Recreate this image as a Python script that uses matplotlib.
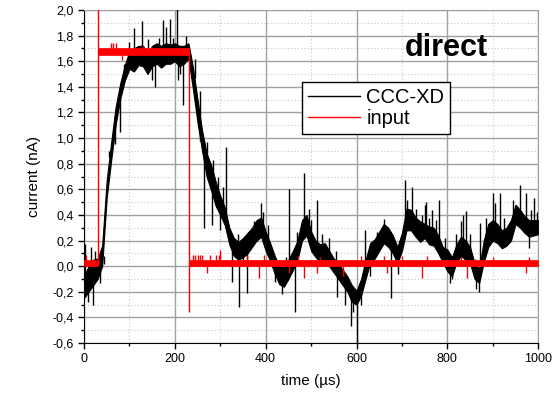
import matplotlib.pyplot as plt
import matplotlib.ticker as mticker
import numpy as np

plt.rcParams['font.family'] = ['Liberation Sans', 'DejaVu Sans']

# CCC-XD output, read as lower/upper edge of the noise band every 10 us
t_ccc = np.arange(0, 1001, 10)
ccc_lo = [-0.25, -0.20, -0.15, -0.10, 0.00, 0.53, 0.83, 1.11, 1.31, 1.45,
          1.54, 1.52, 1.57, 1.56, 1.50, 1.56, 1.58, 1.55, 1.58, 1.58,
          1.60, 1.56, 1.58, 1.62, 1.38, 1.12, 0.90, 0.70, 0.59, 0.47,
          0.40, 0.32, 0.17, 0.08, 0.05, 0.07, 0.10, 0.15, 0.20, 0.23,
          0.12, 0.04, -0.06, -0.14, -0.16, -0.10, -0.03, 0.05, 0.20, 0.24,
          0.12, 0.07, 0.03, 0.05, 0.00, -0.05, -0.10, -0.15, -0.20, -0.28,
          -0.30, -0.23, -0.10, 0.03, 0.06, 0.12, 0.18, 0.15, 0.10, 0.02,
          0.12, 0.28, 0.28, 0.23, 0.19, 0.22, 0.17, 0.16, 0.10, 0.03,
          -0.04, -0.08, 0.03, 0.08, 0.05, 0.02, -0.10, -0.13, 0.03, 0.15,
          0.20, 0.18, 0.14, 0.16, 0.20, 0.33, 0.30, 0.26, 0.23, 0.24,
          0.25]
ccc_hi = [-0.08, 0.00, 0.05, 0.06, 0.16, 0.67, 0.97, 1.25, 1.43, 1.57,
          1.68, 1.70, 1.72, 1.72, 1.66, 1.72, 1.74, 1.72, 1.74, 1.73,
          1.74, 1.72, 1.72, 1.74, 1.55, 1.30, 1.06, 0.88, 0.79, 0.66,
          0.55, 0.46, 0.30, 0.22, 0.19, 0.22, 0.26, 0.30, 0.36, 0.38,
          0.27, 0.18, 0.08, 0.00, -0.01, 0.05, 0.12, 0.20, 0.36, 0.40,
          0.27, 0.20, 0.17, 0.18, 0.12, 0.06, 0.02, -0.03, -0.08, -0.15,
          -0.19, -0.10, 0.05, 0.18, 0.21, 0.27, 0.33, 0.30, 0.24, 0.15,
          0.26, 0.45, 0.44, 0.38, 0.35, 0.33, 0.31, 0.30, 0.24, 0.15,
          0.13, 0.07, 0.17, 0.23, 0.20, 0.15, 0.02, -0.02, 0.20, 0.33,
          0.36, 0.33, 0.28, 0.30, 0.36, 0.48, 0.44, 0.39, 0.36, 0.36,
          0.36]

# single-sample glitches on the CCC-XD trace (time, value)
glitch_t = [3, 10, 15, 19, 25, 35, 45, 55, 68, 79, 88, 100, 110, 127, 140,
            150, 156, 165, 175, 180, 190, 195, 205, 207, 212, 218, 225, 245,
            255, 265, 270, 281, 285, 295, 299, 305, 313, 327, 340, 342, 350,
            359, 375, 390, 395, 405, 420, 435, 445, 451, 465, 470, 485, 495,
            500, 512, 525, 540, 555, 557, 575, 587, 592, 600, 610, 615, 618,
            630, 645, 660, 676, 692, 697, 707, 712, 722, 730, 745, 751, 753,
            760, 767, 775, 782, 795, 805, 811, 820, 829, 835, 841, 850, 862,
            870, 872, 885, 901, 905, 916, 925, 945, 960, 974, 979, 985, 990,
            998]
glitch_v = [0.17, -0.28, 0.15, -0.30, 0.12, -0.13, 0.02, 0.85, 0.95, 1.05,
            1.58, 1.75, 1.86, 1.91, 1.77, 1.45, 1.40, 1.78, 1.92, 1.87, 1.93,
            1.78, 2.05, 1.45, 1.50, 1.26, 1.80, 1.62, 1.37, 0.30, 0.97, 0.32,
            0.83, 0.70, 0.28, 0.62, 0.93, -0.12, 0.25, -0.32, 0.00, -0.21,
            0.35, 0.49, 0.42, 0.32, -0.12, -0.22, 0.07, 0.60, -0.36, 0.27,
            0.73, 0.45, 0.36, 0.52, 0.25, 0.22, 0.12, -0.24, -0.30, -0.47,
            -0.36, -0.62, -0.30, -0.02, 0.28, -0.08, 0.27, 0.37, -0.25, -0.06,
            0.22, 0.67, 0.52, 0.62, 0.45, 0.40, 0.48, 0.50, 0.38, 0.44, 0.36,
            0.52, 0.22, -0.13, -0.10, 0.25, 0.35, 0.40, 0.43, 0.25, -0.18,
            -0.20, 0.34, 0.38, 0.57, 0.49, 0.57, 0.38, 0.52, 0.63, 0.57, 0.14,
            0.44, 0.53, 0.42]

# input pulse: band edges, the two switching transients and small glitches
input_t = [0, 32, 32, 232, 232, 1000]
input_lo = [0.0, 0.0, 1.65, 1.65, 0.0, 0.0]
input_hi = [0.045, 0.045, 1.70, 1.70, 0.045, 0.045]
edge_t = [32, 232]
edge_from = [0.02, 1.675]
edge_to = [2.05, -0.355]
in_glitch_t = [5, 60, 64, 70, 83, 129, 149, 239, 245, 250, 255, 259, 271, 277,
               290, 298, 300, 358, 386, 397, 452, 472, 484, 513, 520, 571, 610,
               660, 667, 700, 744, 755, 800, 830, 843, 860, 900, 974, 980]
in_glitch_v = [0.09, 1.74, 1.74, 1.74, 1.61, 1.72, 1.71, 0.09, 0.09, 0.09, 0.09,
               0.09, -0.05, 0.09, 0.09, 0.09, 0.13, 0.09, -0.09, 0.09, -0.05,
               0.08, -0.09, -0.05, 0.07, -0.08, 0.08, 0.08, -0.05, 0.08, -0.09,
               0.08, 0.06, 0.07, -0.09, 0.06, 0.07, -0.05, 0.07]

fig = plt.figure(figsize=(5.56, 3.98), dpi=100)
ax = fig.add_axes([0.151, 0.138, 0.817, 0.837])

# CCC-XD trace
ax.fill_between(t_ccc, ccc_lo, ccc_hi, color='black', lw=0.8, zorder=3)
ccc_mid = (np.array(ccc_lo) + np.array(ccc_hi)) / 2
base = [ccc_mid[int(round(t / 10))] for t in glitch_t]
ax.vlines(glitch_t, base, glitch_v, color='black', lw=1, zorder=3)
ax.plot([], [], color='black', lw=1, label='CCC-XD')

# input pulse
ax.fill_between(input_t, input_lo, input_hi, color='red', lw=0.5, zorder=4)
ax.vlines(edge_t, edge_from, edge_to, color='red', lw=1, zorder=4)
in_base = [1.675 if 32 < t < 232 else 0.02 for t in in_glitch_t]
ax.vlines(in_glitch_t, in_base, in_glitch_v, color='red', lw=1, zorder=4)
ax.plot([], [], color='red', lw=1, label='input')

ax.set_xlim(0, 1000)
ax.set_ylim(-0.6, 2.0)
ax.xaxis.set_major_locator(mticker.MultipleLocator(200))
ax.xaxis.set_minor_locator(mticker.MultipleLocator(100))
ax.yaxis.set_major_locator(mticker.MultipleLocator(0.2))
ax.yaxis.set_minor_locator(mticker.MultipleLocator(0.1))
ax.yaxis.set_major_formatter(mticker.FuncFormatter(
    lambda v, p: f'{v:.1f}'.replace('.', ',').replace('-0,0', '0,0')))
ax.tick_params(which='major', direction='out', length=4, width=1, labelsize=9)
ax.tick_params(which='minor', direction='out', length=2.5, width=1)

ax.grid(which='major', color='#a0a0a0', lw=1, ls='-', zorder=0)
ax.grid(which='minor', color='#c8c8c8', lw=0.8, ls=(0, (1, 2)), zorder=0)
ax.set_axisbelow(True)
for s in ['top', 'right']:
    ax.spines[s].set_color('#a0a0a0')

ax.set_xlabel('time (µs)', fontsize=11, labelpad=6)
ax.set_ylabel('current (nA)', fontsize=11, labelpad=8)
ax.text(797, 1.70, 'direct', fontsize=22, fontweight='bold', ha='center',
        va='center', zorder=6)

leg = ax.legend(loc='upper left', bbox_to_anchor=(0.48, 0.784), fontsize=14.5,
                frameon=True, fancybox=False, framealpha=1, edgecolor='black',
                handlelength=2.6, handletextpad=0.3, borderpad=0.3,
                labelspacing=0.1, borderaxespad=0)
leg.get_frame().set_linewidth(1)
leg.set_zorder(7)

fig.savefig('out.png', dpi=100)
